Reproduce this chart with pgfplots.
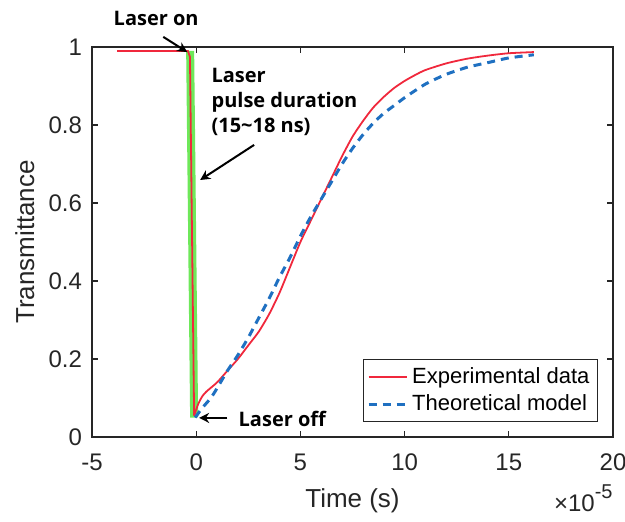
\documentclass[border=0pt]{standalone}
\usepackage{fontspec}
\setmainfont{Liberation Sans}
\newfontfamily\annfont{Open Sans}
\usepackage{pgfplots}
\pgfplotsset{compat=1.18}
\usetikzlibrary{arrows.meta}
\definecolor{expred}{HTML}{F0283C}
\definecolor{theoblue}{HTML}{1F70C1}
\definecolor{pulsegreen}{HTML}{6EE85A}
\definecolor{axgray}{HTML}{262626}

\begin{document}
\begin{tikzpicture}
\begin{axis}[
  name=ax,
  scale only axis, width=260.5pt, height=195pt,
  xmin=-5, xmax=20, ymin=0, ymax=1,
  xtick={-5,0,5,10,15,20}, ytick={0,0.2,0.4,0.6,0.8,1},
  yticklabels={0,0.2,0.4,0.6,0.8,1},
  tick align=inside, major tick length=3pt,
  axis line style={axgray, line width=0.6pt},
  tick style={axgray, line width=0.6pt},
  tick label style={font=\fontsize{12}{14}\selectfont, text=axgray},
  /pgf/number format/assume math mode=true,
  xticklabel shift=5pt, yticklabel shift=1.5pt,
  xlabel={Time (s)}, ylabel={Transmittance},
  label style={font=\fontsize{13}{15}\selectfont, text=axgray},
  xlabel style={at={(axis description cs:0.5,-0.182)}, anchor=base},
  ylabel style={at={(axis description cs:-0.111,0.5)}, anchor=base},
  clip=false,
  legend cell align=left,
  legend style={at={(axis description cs:1,0)}, anchor=south east,
                xshift=-7.5pt, yshift=7.5pt, draw=axgray, line width=0.5pt,
                font=\fontsize{11}{13}\selectfont, inner xsep=2pt, inner ysep=2pt},
  legend image code/.code={\draw[#1] (0pt,0pt) -- (19pt,0pt);},
]
% laser pulse
\addplot[pulsegreen, line width=4pt, forget plot] coordinates {(-0.29,0.99) (-0.1,0.05)};
% experimental data: flat part and drop
\addplot[expred, line width=0.9pt, forget plot] coordinates {
  (-3.8,0.99) (-0.4,0.99) (-0.3,0.975) (-0.1,0.055)};
% experimental data: recovery
\addplot[expred, line width=0.9pt, smooth, tension=0.4] coordinates {
  (-0.1,0.055) (0.1,0.085) (0.3,0.105)
  (0.5,0.117) (1.0,0.14) (1.5,0.17) (2.0,0.20) (2.5,0.235) (3.0,0.27)
  (3.5,0.315) (4.0,0.37) (4.5,0.435) (5.0,0.50) (5.5,0.555) (6.0,0.61)
  (6.5,0.665) (7.0,0.72) (7.5,0.77) (8.0,0.81) (8.5,0.845) (9.0,0.872)
  (9.5,0.895) (10.0,0.913) (10.5,0.928) (11.0,0.941) (12.0,0.958)
  (13.0,0.97) (14.0,0.978) (15.0,0.984) (16.2,0.987)};
% theoretical model
\addplot[theoblue, line width=1.5pt, dash pattern=on 4pt off 3pt, smooth, tension=0.4] coordinates {
  (-0.05,0.05) (0.3,0.075) (0.7,0.10) (1.0,0.125) (1.5,0.17) (2.0,0.21)
  (2.5,0.255) (3.0,0.305) (3.5,0.355) (4.0,0.41) (4.5,0.46) (5.0,0.515)
  (5.5,0.565) (6.0,0.61) (6.5,0.655) (7.0,0.70) (7.5,0.74) (8.0,0.775)
  (8.5,0.805) (9.0,0.83) (9.5,0.85) (10.0,0.87) (11.0,0.905) (12.0,0.93)
  (13.0,0.948) (14.0,0.96) (15.0,0.972) (16.2,0.98)};
\legend{Experimental data, Theoretical model}

% annotations
\node[anchor=base, font=\annfont\bfseries\fontsize{10}{12}\selectfont] at (axis cs:-1.92,1.054) {Laser on};
\draw[-{Stealth[length=5pt,width=5pt]}, line width=1pt] (axis cs:-1.58,1.026) -- (axis cs:-0.43,0.987);
\node[anchor=north west, inner sep=0pt, align=left,
      font=\annfont\bfseries\fontsize{10}{12.5}\selectfont] at (axis cs:0.72,0.946)
  {Laser\\pulse duration\\(15\textasciitilde 18 ns)};
\draw[-{Stealth[length=5pt,width=5pt]}, line width=1pt] (axis cs:2.78,0.749) -- (axis cs:0.19,0.659);
\node[anchor=base west, inner sep=0pt, font=\annfont\bfseries\fontsize{10}{12}\selectfont] at (axis cs:2.02,0.028) {Laser off};
\draw[-{Stealth[length=5pt,width=5pt]}, line width=1pt] (axis cs:1.49,0.049) -- (axis cs:0.14,0.049);
\node[anchor=base east, inner sep=0pt, font=\fontsize{12}{14}\selectfont, text=axgray]
  at (axis description cs:1,-0.192) {×10\raisebox{0.55em}{\fontsize{10}{12}\selectfont -5}};
\end{axis}
\pgfresetboundingbox
\path ([shift={(-46pt,-42pt)}]ax.south west) rectangle ([shift={(6pt,23.5pt)}]ax.north east);
\end{tikzpicture}
\end{document}
